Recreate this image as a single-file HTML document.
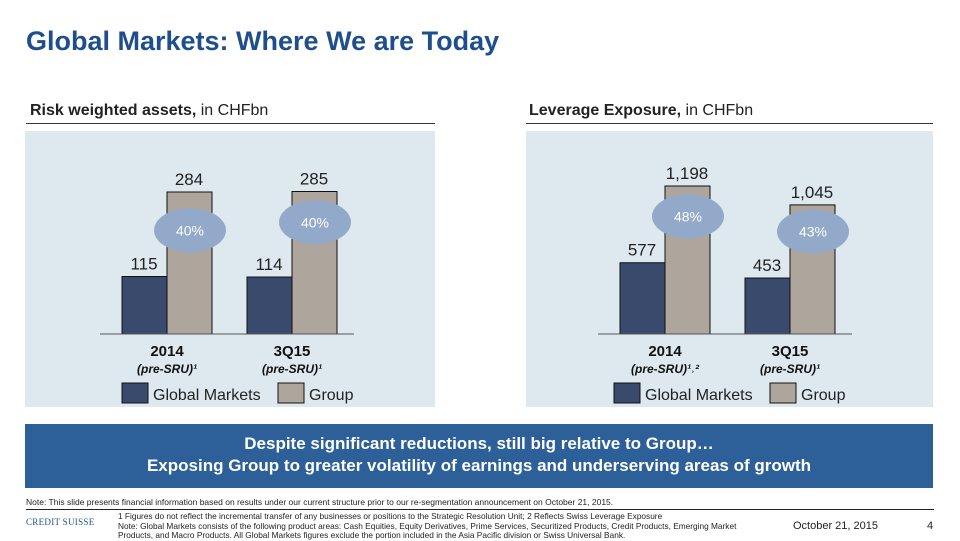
<!DOCTYPE html>
<html><head><meta charset="utf-8"><style>
body{margin:0;width:960px;height:540px;background:#fff;font-family:"Liberation Sans",sans-serif;position:relative;overflow:hidden}
.abs{position:absolute}
</style></head><body>
<div class="abs" style="left:26px;top:26px;font-size:27px;font-weight:bold;color:#1f4e8c">Global Markets: Where We are Today</div>
<div class="abs" style="left:30px;top:102px;font-size:16px;color:#222"><b>Risk weighted assets,</b> in CHFbn</div>
<div class="abs" style="left:26px;top:123px;width:409px;height:1px;background:#333"></div>
<div class="abs" style="left:529px;top:102px;font-size:16px;color:#222"><b>Leverage Exposure,</b> in CHFbn</div>
<div class="abs" style="left:526px;top:123px;width:407px;height:1px;background:#333"></div>
<svg class="abs" style="left:0;top:0" width="960" height="540" id="chart"></svg>
<div class="abs" style="left:25px;top:424px;width:908px;height:64px;background:#2d5f98;color:#fff;font-weight:bold;font-size:17px;text-align:center;line-height:22px;padding-top:9px;box-sizing:border-box">Despite significant reductions, still big relative to Group…<br>Exposing Group to greater volatility of earnings and underserving areas of growth</div>
<div class="abs" style="left:26px;top:497px;font-size:8.5px;color:#222">Note: This slide presents financial information based on results under our current structure prior to our re-segmentation announcement on October 21, 2015.</div>
<div class="abs" style="left:26px;top:509px;width:908px;height:1px;background:#222"></div>
<div class="abs" style="left:26px;top:517px;font-size:9px;color:#1f4e8c;font-family:'Liberation Serif',serif;letter-spacing:0.3px">CREDIT SUISSE</div>
<div class="abs" style="left:118px;top:512px;font-size:8.3px;color:#222;line-height:9.5px;width:650px">1 Figures do not reflect the incremental transfer of any businesses or positions to the Strategic Resolution Unit; 2 Reflects Swiss Leverage Exposure<br>Note: Global Markets consists of the following product areas: Cash Equities, Equity Derivatives, Prime Services, Securitized Products, Credit Products, Emerging Market Products, and Macro Products. All Global Markets figures exclude the portion included in the Asia Pacific division or Swiss Universal Bank.</div>
<div class="abs" style="left:793px;top:520px;font-size:11px;color:#222">October 21, 2015</div>
<div class="abs" style="left:927px;top:520px;font-size:11px;color:#222">4</div>
<script>
const rwaCats=["2014","3Q15"];
const rwaSubs=["(pre-SRU)¹","(pre-SRU)¹"];
const rwaGM=[115,114];
const rwaGroup=[284,285];
const rwaPct=["40%","40%"];
const levCats=["2014","3Q15"];
const levSubs=["(pre-SRU)¹˒²","(pre-SRU)¹"];
const levGM=[577,453];
const levGroup=[1198,1045];
const levPct=["48%","43%"];
const NS="http://www.w3.org/2000/svg";
const svg=document.getElementById('chart');
function mk(t,a,p){const e=document.createElementNS(NS,t);for(const k in a)e.setAttribute(k,a[k]);(p||svg).appendChild(e);return e;}
function draw(o){
  const g=mk('g',{});
  
  
  const bg=mk('rect',{x:o.px,y:131,width:o.pw,height:276,fill:'#dde9ee'},g);
  
  
  const base=334;
  const y=v=>base-v*o.scale;
  o.cats.forEach((c,i)=>{
    const x0=o.x0+i*125;
    const b1=mk('rect',{x:x0,y:y(o.gm[i]),width:45,height:o.gm[i]*o.scale,fill:'#394a6c',stroke:'#111','stroke-width':1},g);
    
    
    const b2=mk('rect',{x:x0+45,y:y(o.grp[i]),width:45,height:o.grp[i]*o.scale,fill:'#aea59d',stroke:'#111','stroke-width':1},g);
    
    
    let t=mk('text',{x:x0+22,y:y(o.gm[i])-7,'text-anchor':'middle','font-size':17,fill:'#222'},g);t.textContent=o.fmt(o.gm[i]);
    
    
    t=mk('text',{x:x0+67,y:y(o.grp[i])-7,'text-anchor':'middle','font-size':17,fill:'#222'},g);t.textContent=o.fmt(o.grp[i]);
    
    
    const ey=(y(o.gm[i])+y(o.grp[i]))/2+o.eoff[i];
    const el=mk('ellipse',{cx:x0+68,cy:ey,rx:36,ry:22,fill:'#93a9c9'},g);
    
    
    t=mk('text',{x:x0+68,y:ey+5,'text-anchor':'middle','font-size':14,fill:'#fff'},g);t.textContent=o.pct[i];
    
    
    t=mk('text',{x:x0+45,y:356,'text-anchor':'middle','font-size':15,'font-weight':'bold',fill:'#111'},g);t.textContent=c;
    
    
    t=mk('text',{x:x0+45,y:373,'text-anchor':'middle','font-size':12,'font-weight':'bold','font-style':'italic',fill:'#111'},g);t.textContent=o.subs[i];
    
    
  });
  const ax=mk('line',{x1:o.x0-22,x2:o.x0+232,y1:base,y2:base,stroke:'#555','stroke-width':1},g);
  
  
  const lx=o.lx;
  let r=mk('rect',{x:lx,y:383,width:26,height:20,fill:'#394a6c',stroke:'#111'},g);
  
  
  let t=mk('text',{x:lx+31,y:400,'font-size':16,fill:'#222'},g);t.textContent='Global Markets';
  
  
  r=mk('rect',{x:lx+156,y:383,width:26,height:20,fill:'#aea59d',stroke:'#111'},g);
  
  
  t=mk('text',{x:lx+187,y:400,'font-size':16,fill:'#222'},g);t.textContent='Group';
  
  
}
draw({name:'rwa-chart',px:25,pw:410,x0:122,scale:142/284,cats:rwaCats,subs:rwaSubs,gm:rwaGM,grp:rwaGroup,pct:rwaPct,fmt:v=>String(v),eoff:[-4,-12],lx:122});
draw({name:'leverage-chart',px:526,pw:407,x0:620,scale:148/1198,cats:levCats,subs:levSubs,gm:levGM,grp:levGroup,pct:levPct,fmt:v=>v.toLocaleString('en-US'),eoff:[-8,-10],lx:614});
</script>
</body></html>
